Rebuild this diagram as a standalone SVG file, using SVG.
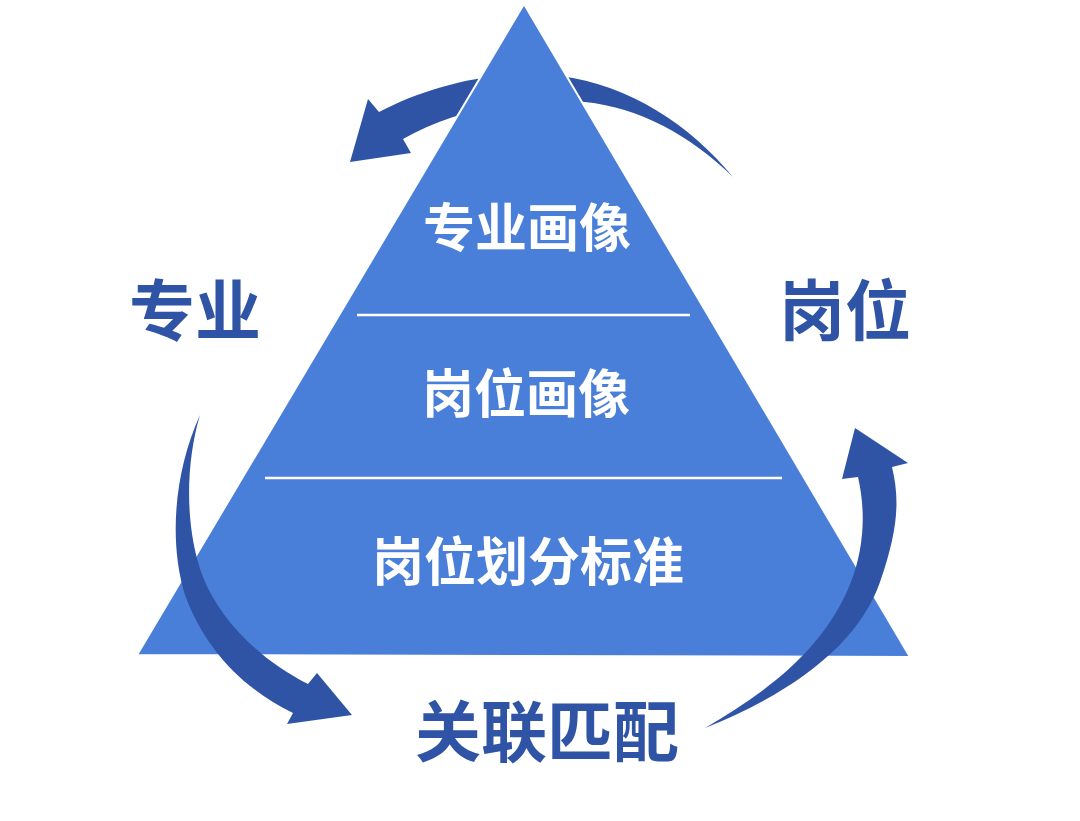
<svg xmlns="http://www.w3.org/2000/svg" width="1080" height="821" viewBox="0 0 1080 821">
<style>
.arrow{fill:#2f54a6;}
.tri{fill:#4a7fd9;stroke:#ffffff;stroke-width:2;}
.sep{stroke:#ffffff;stroke-width:2.5;}
.in{font-family:"Noto Sans CJK SC","Noto Sans",sans-serif;font-weight:700;fill:#ffffff;text-anchor:middle;font-size:52px;}
.out{font-family:"Noto Sans CJK SC","Noto Sans",sans-serif;font-weight:700;fill:#2f54a6;text-anchor:middle;}
</style>
<rect width="1080" height="821" fill="#ffffff"/>
<g id="connectors-back">
<path id="arrow-top" class="arrow" d="M733,177 C690,135 640,108 585,102 C520,95 450,112 403,139 L411,153 L350,162 L368,99 L379,112 C430,85 500,68 560,76 C630,85 690,125 733,177 Z"/>
</g>
<g id="pyramid">
<polygon class="tri" points="524,4 910,657 137,655"/>
<line class="sep" x1="357" y1="315" x2="690" y2="315"/>
<line class="sep" x1="265" y1="478" x2="782" y2="478"/>
<text class="in" x="527" y="247">专业画像</text>
<text class="in" x="526" y="413">岗位画像</text>
<text class="in" x="528" y="581">岗位划分标准</text>
</g>
<g id="connectors">
<path id="arrow-left" class="arrow" d="M200,415 C175,470 168,540 185,595 C205,650 245,690 293,713 L287,724 L352,715 L317,673 L308,684 C260,660 220,620 203,577 C185,530 185,465 200,415 Z"/>
<path id="arrow-right" class="arrow" d="M705,728 C800,690 860,640 880,582 C898,530 900,500 892,467 L908,463 L855,428 L842,479 L858,477 C866,512 864,548 851,582 C825,648 770,690 705,728 Z"/>
</g>
<g id="node-zhuanye"><text class="out" x="195" y="335" font-size="66">专业</text></g>
<g id="node-gangwei"><text class="out" x="845" y="335" font-size="66">岗位</text></g>
<g id="node-guanlian"><text class="out" x="547" y="756" font-size="66">关联匹配</text></g>
</svg>
